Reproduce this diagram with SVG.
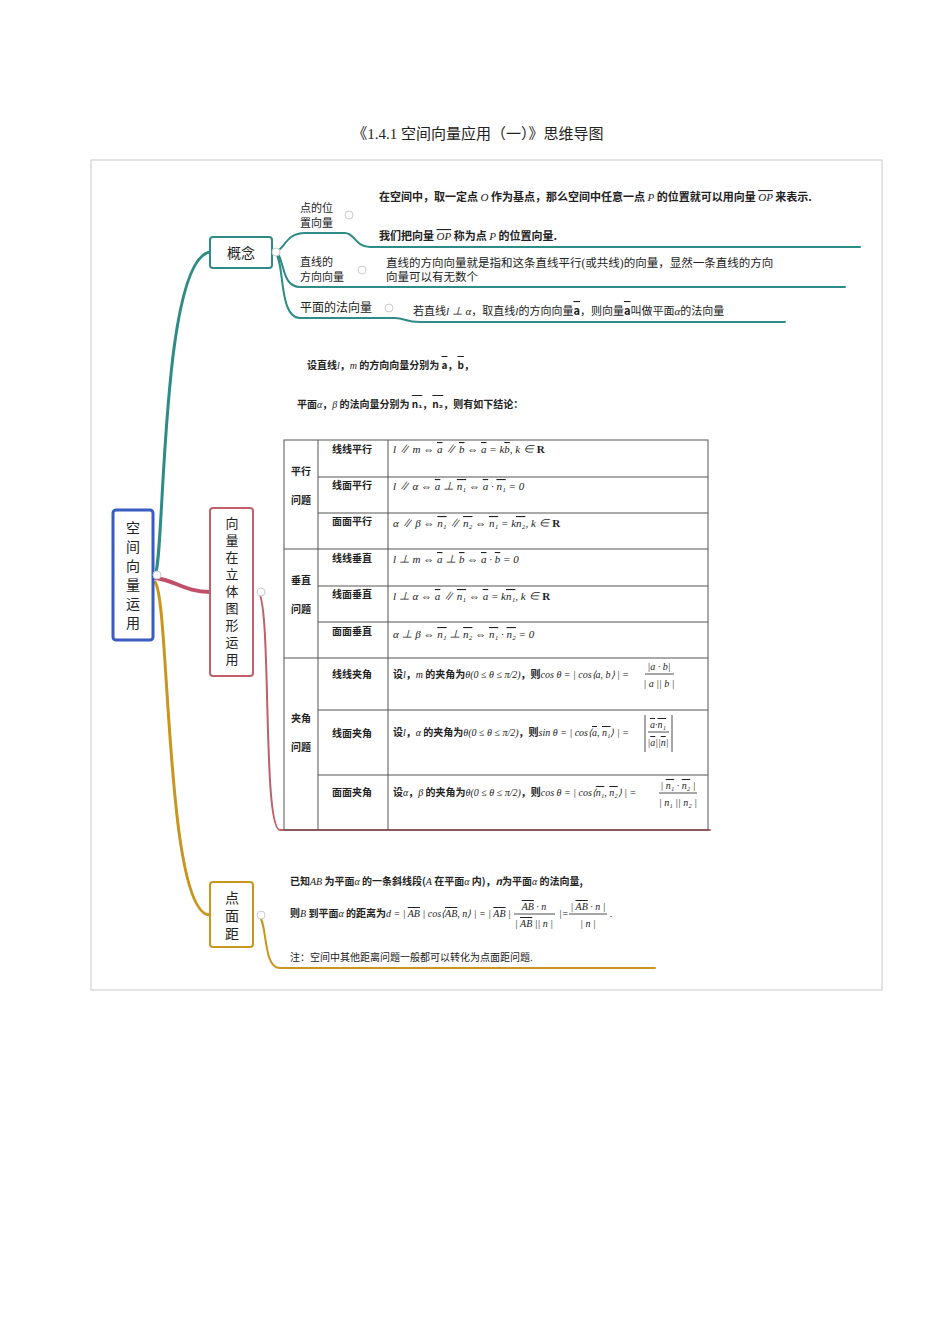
<svg xmlns="http://www.w3.org/2000/svg" width="950" height="1344" viewBox="0 0 950 1344">
<style>
.t{font-family:"Liberation Serif","Noto Sans CJK SC",serif;fill:#222}
.s{font-family:"Noto Sans CJK SC",sans-serif;fill:#222}
.b{font-family:"Noto Sans CJK SC",sans-serif;font-weight:bold;fill:#222}
.m{font-family:"Liberation Serif","Noto Sans CJK SC",serif;font-style:italic;font-weight:normal;fill:#222}
.v{text-decoration:overline}
.tl{stroke:#555;stroke-width:1;fill:none}
</style>
<rect width="950" height="1344" fill="#fff"/>
<text class="t" x="478" y="139" font-size="15" text-anchor="middle">《1.4.1 空间向量应用（一）》思维导图</text>
<rect x="91" y="160" width="791" height="830" fill="none" stroke="#c8c8c8"/>

<g id="connectors" fill="none" stroke-linecap="round">
<path d="M155,575 C165,560 160,260 210,252" stroke="#2e8b86" stroke-width="3"/>
<path d="M275,252 C285,250 285,233 305,233 L345,233 C355,233 355,247 370,247 L860,247" stroke="#2e8b86" stroke-width="2"/>
<path d="M275,252 C285,255 280,287 300,287 L845,287" stroke="#2e8b86" stroke-width="2"/>
<path d="M275,252 C285,260 278,318 300,318 L395,318 C405,318 405,322 420,322 L785,322" stroke="#2e8b86" stroke-width="2"/>
<path d="M155,578 C175,580 185,592 210,592" stroke="#c0506a" stroke-width="4"/>
<path d="M258,592 C272,600 262,830 280,830 L710,830" stroke="#c0606a" stroke-width="2"/>
<path d="M155,582 C170,600 165,915 210,915" stroke="#c8961e" stroke-width="3"/>
<path d="M258,915 C268,920 262,968 280,968 L655,968" stroke="#c8961e" stroke-width="2"/>
</g>

<g id="root">
<rect x="113" y="510" width="40" height="130" rx="3" fill="#fff" stroke="#3a5bbf" stroke-width="3"/>
<text class="s" font-size="14" text-anchor="middle"><tspan x="133" y="533">空</tspan><tspan x="133" y="552">间</tspan><tspan x="133" y="571">向</tspan><tspan x="133" y="590">量</tspan><tspan x="133" y="609">运</tspan><tspan x="133" y="628">用</tspan></text>
<circle cx="157" cy="575" r="4" fill="#fff" stroke="#ccc"/>
</g>

<g id="concept">
<rect x="210" y="237" width="62" height="31" rx="3" fill="#fff" stroke="#2e8b86" stroke-width="2"/>
<text class="s" x="241" y="258" font-size="14" text-anchor="middle">概念</text>
<circle cx="276" cy="252" r="4" fill="#fff" stroke="#ccc"/>
</g>
<g id="c1">
<text class="s" font-size="11"><tspan x="300" y="212">点的位</tspan><tspan x="300" y="227">置向量</tspan></text>
<circle cx="349" cy="215" r="4" fill="#fff" stroke="#ccc"/>
<text class="b" x="379" y="201" font-size="11">在空间中，取一定点 <tspan class="m">O</tspan> 作为基点，那么空间中任意一点 <tspan class="m">P</tspan> 的位置就可以用向量 <tspan class="m v">OP</tspan> 来表示.</text>
<text class="b" x="379" y="240" font-size="11">我们把向量 <tspan class="m v">OP</tspan> 称为点 <tspan class="m">P</tspan> 的位置向量.</text>
</g>
<g id="c2">
<text class="s" font-size="11"><tspan x="300" y="266">直线的</tspan><tspan x="300" y="281">方向向量</tspan></text>
<circle cx="362" cy="270" r="4" fill="#fff" stroke="#ccc"/>
<text class="t" font-size="11.5"><tspan x="386" y="267">直线的方向向量就是指和这条直线平行(或共线)的向量，显然一条直线的方向</tspan><tspan x="386" y="281">向量可以有无数个</tspan></text>
</g>
<g id="c3">
<text class="s" x="300" y="312" font-size="12">平面的法向量</text>
<circle cx="389" cy="308" r="4" fill="#fff" stroke="#ccc"/>
<text class="s" x="413" y="315" font-size="11">若直线<tspan class="m">l ⊥ α</tspan>，取直线<tspan class="m">l</tspan>的方向向量<tspan class="v" font-weight="bold">a</tspan>，则向量<tspan class="v" font-weight="bold">a</tspan>叫做平面<tspan class="m">α</tspan>的法向量</text>
</g>

<g id="application">
<rect x="210" y="508" width="43" height="168" rx="3" fill="#fff" stroke="#c0606a" stroke-width="2"/>
<text class="s" font-size="13" text-anchor="middle"><tspan x="232" y="528">向</tspan><tspan x="232" y="545">量</tspan><tspan x="232" y="562">在</tspan><tspan x="232" y="579">立</tspan><tspan x="232" y="596">体</tspan><tspan x="232" y="613">图</tspan><tspan x="232" y="630">形</tspan><tspan x="232" y="647">运</tspan><tspan x="232" y="664">用</tspan></text>
<circle cx="261" cy="592" r="4" fill="#fff" stroke="#ccc"/>
<text class="b" x="307" y="369" font-size="10">设直线<tspan class="m">l</tspan>，<tspan class="m">m</tspan> 的方向向量分别为 <tspan class="v">a</tspan>，<tspan class="v">b</tspan>，</text>
<text class="b" x="297" y="408" font-size="10">平面<tspan class="m">α</tspan>，<tspan class="m">β</tspan> 的法向量分别为 <tspan class="v">n₁</tspan>，<tspan class="v">n₂</tspan>，则有如下结论：</text>
<g class="tl">
<rect x="284" y="440" width="424" height="390"/>
<line x1="318" y1="440" x2="318" y2="830"/>
<line x1="388" y1="440" x2="388" y2="830"/>
<line x1="318" y1="477" x2="708" y2="477"/>
<line x1="318" y1="513" x2="708" y2="513"/>
<line x1="284" y1="549" x2="708" y2="549"/>
<line x1="318" y1="586" x2="708" y2="586"/>
<line x1="318" y1="622" x2="708" y2="622"/>
<line x1="284" y1="658" x2="708" y2="658"/>
<line x1="318" y1="710" x2="708" y2="710"/>
<line x1="318" y1="775" x2="708" y2="775"/>
</g>
<g class="b" font-size="10">
<text x="291" y="475">平行</text><text x="291" y="504">问题</text>
<text x="291" y="584">垂直</text><text x="291" y="613">问题</text>
<text x="291" y="722">夹角</text><text x="291" y="751">问题</text>
<text x="332" y="453">线线平行</text><text x="332" y="489">线面平行</text><text x="332" y="525">面面平行</text>
<text x="332" y="562">线线垂直</text><text x="332" y="598">线面垂直</text><text x="332" y="635">面面垂直</text>
<text x="332" y="678">线线夹角</text><text x="332" y="737">线面夹角</text><text x="332" y="796">面面夹角</text>
</g>
<g class="m" font-size="11">
<text x="393" y="453">l ∥ m ⇔ <tspan class="v">a</tspan> ∥ <tspan class="v">b</tspan> ⇔ <tspan class="v">a</tspan> = k<tspan class="v">b</tspan>, k ∈ <tspan font-style="normal" font-weight="bold">R</tspan></text>
<text x="393" y="490">l ∥ α ⇔ <tspan class="v">a</tspan> ⊥ <tspan class="v">n₁</tspan> ⇔ <tspan class="v">a</tspan> · <tspan class="v">n₁</tspan> = 0</text>
<text x="393" y="527">α ∥ β ⇔ <tspan class="v">n₁</tspan> ∥ <tspan class="v">n₂</tspan> ⇔ <tspan class="v">n₁</tspan> = k<tspan class="v">n₂</tspan>, k ∈ <tspan font-style="normal" font-weight="bold">R</tspan></text>
<text x="393" y="563">l ⊥ m ⇔ <tspan class="v">a</tspan> ⊥ <tspan class="v">b</tspan> ⇔ <tspan class="v">a</tspan> · <tspan class="v">b</tspan> = 0</text>
<text x="393" y="600">l ⊥ α ⇔ <tspan class="v">a</tspan> ∥ <tspan class="v">n₁</tspan> ⇔ <tspan class="v">a</tspan> = k<tspan class="v">n₁</tspan>, k ∈ <tspan font-style="normal" font-weight="bold">R</tspan></text>
<text x="393" y="638">α ⊥ β ⇔ <tspan class="v">n₁</tspan> ⊥ <tspan class="v">n₂</tspan> ⇔ <tspan class="v">n₁</tspan> · <tspan class="v">n₂</tspan> = 0</text>
</g>
<g font-size="10">
<text class="b" x="393" y="678">设<tspan class="m">l</tspan>，<tspan class="m">m</tspan> 的夹角为<tspan class="m">θ(0 ≤ θ ≤ π/2)</tspan>，则<tspan class="m">cos θ = | cos⟨a, b⟩ | =</tspan></text>
<text class="m" x="659" y="670" text-anchor="middle">|a · b|</text>
<line x1="645" y1="674" x2="674" y2="674" stroke="#222" stroke-width="0.8"/>
<text class="m" x="659" y="687" text-anchor="middle">| a || b |</text>
<text class="b" x="393" y="736">设<tspan class="m">l</tspan>，<tspan class="m">α</tspan> 的夹角为<tspan class="m">θ(0 ≤ θ ≤ π/2)</tspan>，则<tspan class="m">sin θ = | cos⟨<tspan class="v">a</tspan>, <tspan class="v">n₁</tspan>⟩ | =</tspan></text>
<line x1="645" y1="715" x2="645" y2="752" stroke="#222" stroke-width="0.8"/>
<line x1="672" y1="715" x2="672" y2="752" stroke="#222" stroke-width="0.8"/>
<text class="m" x="658" y="728" text-anchor="middle"><tspan class="v">a</tspan>·<tspan class="v">n₁</tspan></text>
<line x1="648" y1="732" x2="669" y2="732" stroke="#222" stroke-width="0.8"/>
<text class="m" x="658" y="746" text-anchor="middle">|<tspan class="v">a</tspan>||<tspan class="v">n</tspan>|</text>
<text class="b" x="393" y="796">设<tspan class="m">α</tspan>，<tspan class="m">β</tspan> 的夹角为<tspan class="m">θ(0 ≤ θ ≤ π/2)</tspan>，则<tspan class="m">cos θ = | cos⟨<tspan class="v">n₁</tspan>, <tspan class="v">n₂</tspan>⟩ | =</tspan></text>
<text class="m" x="678" y="789" text-anchor="middle">| <tspan class="v">n₁</tspan> · <tspan class="v">n₂</tspan> |</text>
<line x1="659" y1="793" x2="697" y2="793" stroke="#222" stroke-width="0.8"/>
<text class="m" x="678" y="806" text-anchor="middle">| n₁ || n₂ |</text>
</g>
</g>

<g id="distance">
<rect x="210" y="882" width="43" height="65" rx="3" fill="#fff" stroke="#c8961e" stroke-width="2"/>
<text class="s" font-size="14" text-anchor="middle"><tspan x="232" y="903">点</tspan><tspan x="232" y="921">面</tspan><tspan x="232" y="939">距</tspan></text>
<circle cx="261" cy="915" r="4" fill="#fff" stroke="#ccc"/>
<text class="b" x="290" y="885" font-size="10">已知<tspan class="m">AB</tspan> 为平面<tspan class="m">α</tspan> 的一条斜线段(<tspan class="m">A</tspan> 在平面<tspan class="m">α</tspan> 内)，<tspan font-style="italic">n</tspan>为平面<tspan class="m">α</tspan> 的法向量,</text>
<text class="b" x="290" y="917" font-size="10">则<tspan class="m">B</tspan> 到平面<tspan class="m">α</tspan> 的距离为<tspan class="m">d = | <tspan class="v">AB</tspan> | cos⟨<tspan class="v">AB</tspan>, n⟩ | = | <tspan class="v">AB</tspan> |</tspan></text>
<text class="m" x="534" y="910" font-size="10" text-anchor="middle"><tspan class="v">AB</tspan> · n</text>
<line x1="514" y1="914" x2="555" y2="914" stroke="#222" stroke-width="0.8"/>
<text class="m" x="534" y="927" font-size="10" text-anchor="middle">| <tspan class="v">AB</tspan> || n |</text>
<text class="m" x="559" y="917" font-size="10">|=</text>
<text class="m" x="588" y="910" font-size="10" text-anchor="middle">| <tspan class="v">AB</tspan> · n |</text>
<line x1="569" y1="914" x2="607" y2="914" stroke="#222" stroke-width="0.8"/>
<text class="m" x="588" y="927" font-size="10" text-anchor="middle">| n |</text>
<text class="m" x="610" y="917" font-size="10">.</text>
<text class="s" x="290" y="961" font-size="10">注：空间中其他距离问题一般都可以转化为点面距问题.</text>
</g>
</svg>
